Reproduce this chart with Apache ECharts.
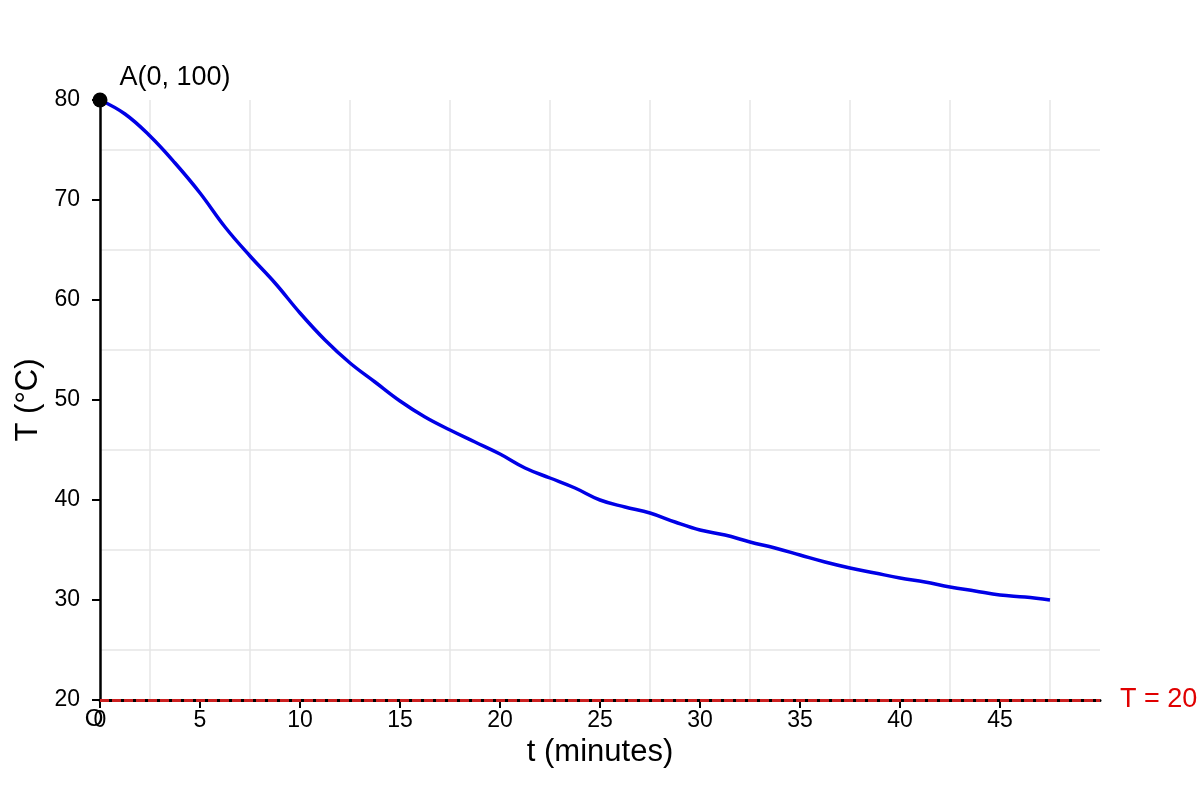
<!DOCTYPE html>
<html>
<head>
<meta charset="utf-8">
<script src="https://cdn.jsdelivr.net/npm/echarts@6/dist/echarts.min.js"></script>
<style>
  html, body { margin: 0; padding: 0; background: #fff; }
  #chart { width: 1200px; height: 800px; }
</style>
</head>
<body>
<div id="chart"></div>
<script>
// cooling curve
var times = [0, 1.25, 2.5, 3.75, 5, 6.25, 7.5, 8.75, 10, 11.25, 12.5, 13.75, 15, 16.25,
  17.5, 18.75, 20, 21.25, 22.5, 23.75, 25, 26.25, 27.5, 28.75, 30, 31.25, 32.5, 33.75,
  35, 36.25, 37.5, 38.75, 40, 41.25, 42.5, 43.75, 45, 46.25, 47.5];
var temps = [80, 78.6, 76.4, 73.7, 70.7, 67.3, 64.4, 61.7, 58.7, 56, 53.7, 51.8, 49.9, 48.3,
  47, 45.8, 44.6, 43.2, 42.2, 41.2, 40, 39.3, 38.7, 37.8, 37, 36.5, 35.8, 35.2,
  34.5, 33.8, 33.2, 32.7, 32.2, 31.8, 31.3, 30.9, 30.5, 30.3, 30];
var xTicks = [0, 5, 10, 15, 20, 25, 30, 35, 40, 45];
var ambient = 20;
var pointA = [0, 80];

var font = 'Liberation Sans, Arial, sans-serif';
var chart = echarts.init(document.getElementById('chart'));

chart.setOption({
  animation: false,
  grid: { left: 100, right: 100, top: 100, bottom: 100 },
  xAxis: {
    type: 'value',
    min: 0, max: 50, interval: 5,
    name: 't (minutes)',
    nameLocation: 'middle',
    nameGap: 36,
    nameTextStyle: { fontFamily: font, fontSize: 31, color: '#000' },
    axisLine: { show: true, lineStyle: { color: '#000', width: 3 } },
    axisTick: { show: true, length: 8, lineStyle: { color: '#000', width: 2 }, customValues: xTicks },
    axisLabel: { customValues: xTicks, fontFamily: font, fontSize: 23, color: '#000', margin: 9 },
    splitLine: { show: false },
    minorTick: { show: false, splitNumber: 2 },
    minorSplitLine: { show: true, lineStyle: { color: '#e6e6e6', width: 1.5 } }
  },
  yAxis: {
    type: 'value',
    min: 20, max: 80, interval: 10,
    name: 'T (°C)',
    nameLocation: 'middle',
    nameGap: 55,
    nameTextStyle: { fontFamily: font, fontSize: 31, color: '#000' },
    axisLine: { show: true, lineStyle: { color: '#000', width: 2.5 } },
    axisTick: { show: true, length: 8, lineStyle: { color: '#000', width: 2 } },
    axisLabel: { fontFamily: font, fontSize: 23, color: '#000', margin: 20 },
    splitLine: { show: false },
    minorTick: { show: false, splitNumber: 2 },
    minorSplitLine: { show: true, lineStyle: { color: '#e6e6e6', width: 1.5 } }
  },
  series: [
    {
      type: 'line',
      data: times.map(function (t, i) { return [t, temps[i]]; }),
      smooth: 0.4,
      showSymbol: false,
      lineStyle: { color: '#0000e6', width: 3.5 },
      z: 3,
      markLine: {
        silent: true,
        symbol: 'none',
        lineStyle: { color: '#cc2020', type: [9, 3], width: 3 },
        label: {
          show: true, position: 'end', distance: 20,
          formatter: 'T = ' + ambient,
          fontFamily: font, fontSize: 27, color: '#e00000'
        },
        data: [[{ coord: [0, ambient] }, { coord: [50, ambient] }]]
      }
    },
    {
      type: 'scatter',
      data: [pointA],
      symbol: 'circle',
      symbolSize: 15,
      itemStyle: { color: '#000', opacity: 1 },
      z: 5,
      label: {
        show: true, position: 'right', offset: [7, -22],
        formatter: 'A(0, 100)',
        fontFamily: font, fontSize: 27, color: '#000'
      }
    },
    {
      type: 'scatter',
      data: [[0, ambient]],
      symbolSize: 0,
      silent: true,
      itemStyle: { opacity: 1 },
      label: {
        show: true, position: 'inside', offset: [-6, 19],
        formatter: 'O',
        fontFamily: font, fontSize: 24, color: '#000'
      }
    }
  ]
});
</script>
</body>
</html>
